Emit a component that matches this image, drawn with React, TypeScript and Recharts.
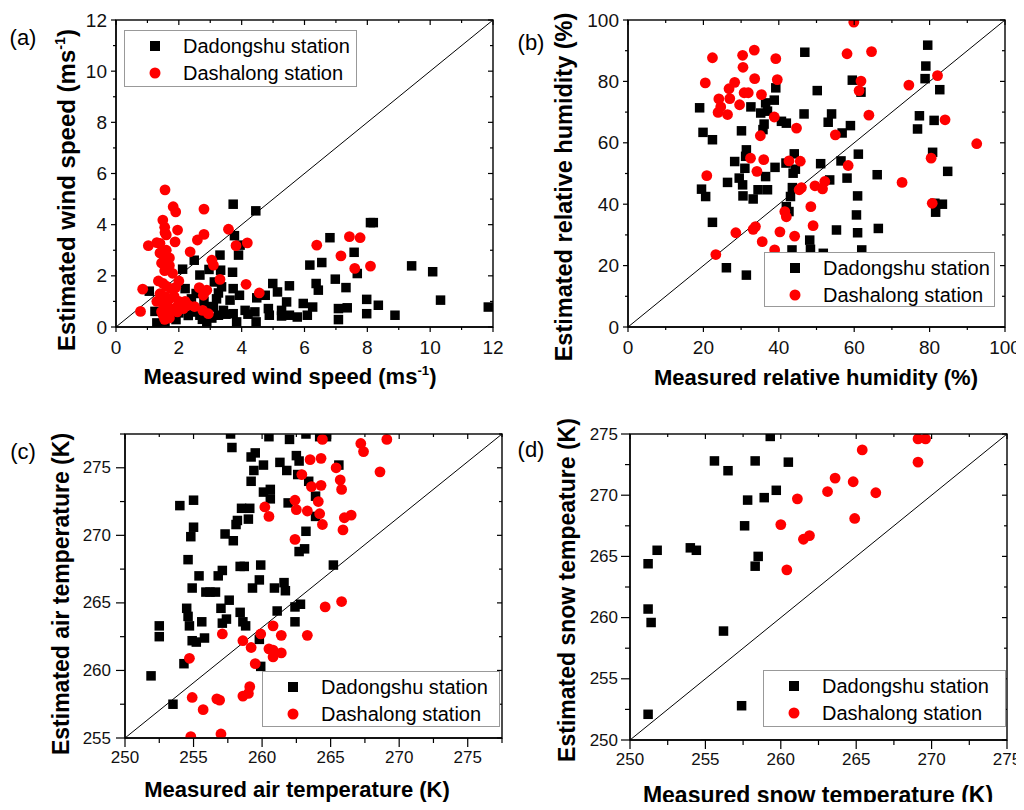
import { ReferenceLine, Scatter, ScatterChart, XAxis, YAxis } from "recharts";

const FONT = '"Liberation Sans", Arial, Helvetica, sans-serif';

type Pt = [number, number];

// (a) wind speed, ms-1
const windMajor = [0, 2, 4, 6, 8, 10, 12];
const windMinor = [1, 3, 5, 7, 9, 11];
const windDadongshu: Pt[] = [
  [3.73, 4.8], [4.45, 4.54], [3.77, 3.57], [3.95, 3.2], [3.9, 2.81], [3.31, 2.81], [2.49, 2.61],
  [2.12, 2.26], [2.67, 2.03], [2.96, 2.25], [3.33, 2.22], [3.71, 2.14], [3.13, 1.76], [3.36, 1.57],
  [3.73, 1.5], [3.26, 1.33], [2.55, 1.31], [3.93, 1.24], [3.63, 1.05], [1.06, 1.4], [1.24, 0.61],
  [1.3, 0.16], [1.56, 0.2], [1.91, 0.29], [2.46, 0.59], [2.67, 0.46], [2.89, 0.2], [3.1, 0.78],
  [3.26, 0.46], [3.42, 0.65], [3.73, 0.52], [3.84, 0.2], [4.11, 0.65], [4.42, 0.59], [4.46, 0.2],
  [4.48, 1.14], [4.75, 1.24], [4.85, 0.72], [4.88, 0.46], [4.99, 1.7], [5.14, 1.37], [5.27, 0.65],
  [5.27, 0.43], [5.43, 0.98], [5.52, 1.61], [5.52, 0.46], [5.77, 0.39], [5.96, 0.92], [6.09, 0.46],
  [6.26, 0.78], [6.17, 2.42], [6.37, 1.7], [6.44, 1.44], [6.55, 2.52], [6.81, 3.49], [6.98, 1.87],
  [7.08, 0.72], [7.08, 0.29], [7.36, 0.75], [7.32, 1.54], [7.58, 2.92], [7.68, 2.09], [7.98, 1.08],
  [7.98, 0.52], [8.1, 4.08], [8.19, 4.08], [8.35, 0.85], [8.88, 0.46], [9.41, 2.39], [10.08, 2.16],
  [10.33, 1.05], [11.85, 0.78], [2.2, 1.5], [2.4, 1.1], [2.6, 0.6], [2.8, 1.0], [3.0, 0.8],
  [3.5, 0.5], [3.2, 1.1], [2.3, 0.45], [4.2, 0.5], [2.0, 0.55], [2.75, 0.3], [3.05, 0.35],
];
const windDashalong: Pt[] = [
  [1.56, 5.36], [1.82, 4.7], [1.9, 4.5], [1.49, 4.18], [1.56, 3.69], [1.96, 3.79], [2.8, 4.61],
  [2.8, 3.62], [2.59, 3.4], [3.58, 3.82], [3.82, 3.18], [4.18, 3.29], [1.03, 3.18], [1.4, 3.27],
  [1.88, 3.33], [2.36, 2.94], [3.05, 2.61], [3.1, 2.42], [3.31, 1.86], [4.14, 1.67], [4.56, 1.33],
  [0.85, 1.48], [0.78, 0.61], [2.65, 1.54], [2.89, 1.44], [2.78, 1.24], [2.76, 0.65], [2.94, 0.52],
  [2.3, 0.85], [2.14, 0.72], [1.95, 0.59], [1.5, 0.46], [6.39, 3.2], [7.16, 2.78], [7.43, 3.53],
  [7.77, 3.49], [7.6, 2.29], [8.1, 2.38], [1.3, 3.3], [1.4, 2.9], [1.5, 2.8], [1.6, 3.0],
  [1.45, 2.5], [1.7, 2.4], [1.55, 2.2], [1.8, 2.1], [1.35, 1.8], [1.5, 1.7], [1.6, 1.6],
  [1.75, 1.5], [1.9, 1.55], [1.4, 1.3], [1.55, 1.2], [1.7, 1.1], [1.85, 1.2], [2.0, 1.0],
  [1.3, 1.0], [1.5, 0.9], [1.65, 0.8], [1.8, 0.7], [1.95, 0.8], [2.1, 0.9], [1.45, 0.6],
  [1.6, 0.5], [1.7, 0.35], [1.55, 0.3], [1.7, 2.7], [1.6, 3.6], [1.55, 3.9], [2.0, 1.8],
  [2.2, 1.0], [2.5, 0.8],
];

// (b) relative humidity, %
const humMajor = [0, 20, 40, 60, 80, 100];
const humMinor = [10, 30, 50, 70, 90];
const humDadongshu: Pt[] = [
  [19.0, 71.4], [19.9, 63.4], [22.4, 61.0], [19.5, 44.9], [20.6, 42.5], [22.4, 34.1], [26.1, 19.3],
  [26.4, 47.1], [28.3, 53.9], [29.5, 48.5], [30.1, 63.9], [30.4, 46.3], [30.5, 42.7], [31.2, 55.6],
  [31.4, 57.7], [31.0, 51.7], [31.4, 16.9], [32.6, 71.7], [33.2, 41.7], [34.5, 44.7], [35.2, 69.7],
  [35.8, 64.3], [36.1, 66.1], [36.5, 73.0], [37.0, 70.3], [36.5, 49.0], [37.0, 44.7], [38.8, 73.9],
  [39.2, 77.9], [39.0, 52.0], [40.7, 67.0], [42.0, 66.4], [41.9, 53.4], [42.0, 39.2], [42.7, 37.6],
  [43.1, 42.5], [43.6, 45.4], [43.8, 50.1], [44.1, 56.4], [44.4, 51.4], [43.5, 25.1], [46.9, 89.5],
  [46.7, 69.4], [48.2, 28.3], [48.4, 25.3], [50.2, 77.0], [51.1, 53.2], [51.8, 24.0], [53.1, 66.7],
  [54.0, 69.4], [53.5, 47.9], [55.3, 31.6], [56.5, 54.1], [56.8, 63.2], [58.1, 48.5], [59.0, 65.6],
  [59.5, 80.4], [60.9, 30.7], [60.6, 36.5], [60.9, 42.7], [61.1, 56.3], [61.8, 76.5], [62.0, 25.1],
  [66.1, 49.6], [66.4, 32.1], [76.8, 64.5], [77.3, 68.8], [78.8, 80.9], [79.0, 85.0], [79.5, 91.8],
  [80.8, 56.9], [81.2, 67.3], [81.4, 40.3], [81.6, 37.4], [82.7, 77.3], [83.4, 40.0], [84.8, 50.7],
];
const humDashalong: Pt[] = [
  [22.4, 87.7], [20.5, 79.5], [20.9, 49.3], [23.3, 23.6], [24.1, 74.3], [23.9, 69.9], [24.6, 71.7],
  [26.4, 69.2], [26.8, 77.6], [27.0, 74.4], [28.3, 79.7], [29.6, 72.4], [30.4, 88.5], [30.5, 84.6],
  [30.8, 76.3], [31.9, 76.3], [33.5, 90.2], [33.6, 80.9], [35.4, 75.7], [35.1, 62.3], [32.5, 55.0],
  [34.2, 50.7], [36.0, 54.5], [28.6, 30.7], [33.2, 31.8], [33.8, 32.7], [35.6, 27.8], [38.9, 25.1],
  [40.3, 31.0], [38.8, 68.4], [39.2, 87.4], [39.6, 80.6], [41.6, 37.6], [42.0, 35.9], [42.7, 54.1],
  [44.2, 29.6], [44.7, 64.8], [45.4, 44.7], [45.7, 54.0], [46.0, 45.4], [48.5, 39.2], [49.1, 33.0],
  [49.6, 46.0], [51.6, 45.0], [52.2, 47.4], [55.0, 62.6], [58.1, 89.0], [58.4, 52.6], [59.9, 99.3],
  [61.3, 77.0], [61.8, 80.1], [63.9, 69.0], [64.6, 89.7], [72.7, 47.1], [74.5, 78.8], [80.4, 55.0],
  [80.7, 40.3], [82.1, 81.9], [84.1, 67.5], [92.5, 59.7],
];

// (c) air temperature, K
const airXMajor = [250, 255, 260, 265, 270, 275];
const airXMinor = [252.5, 257.5, 262.5, 267.5, 272.5, 277.5];
const airYMajor = [255, 260, 265, 270, 275];
const airYMinor = [257.5, 262.5, 267.5, 272.5, 277.5];
const airDadongshu: Pt[] = [
  [251.9, 259.6], [252.5, 263.3], [252.5, 262.5], [253.5, 257.5], [254.0, 272.2], [254.3, 260.5],
  [254.6, 268.2], [254.5, 264.6], [254.6, 264.0], [254.7, 263.3], [254.8, 269.9], [254.9, 266.1],
  [254.9, 262.2], [255.0, 270.6], [255.0, 272.6], [255.2, 262.1], [255.4, 267.0], [255.6, 263.6],
  [255.8, 262.4], [255.9, 265.8], [256.2, 265.8], [256.6, 265.8], [256.8, 267.0], [257.0, 264.6],
  [257.1, 267.4], [257.1, 263.5], [257.4, 263.8], [257.3, 270.1], [257.6, 265.2], [257.8, 276.5],
  [257.9, 269.6], [258.1, 270.8], [258.2, 271.1], [258.4, 267.7], [258.4, 264.3], [258.5, 272.0],
  [258.6, 263.6], [258.7, 267.7], [258.8, 263.3], [259.0, 271.2], [259.1, 272.0], [259.2, 274.0],
  [259.3, 266.1], [259.2, 275.8], [259.4, 274.8], [259.5, 276.1], [259.8, 266.7], [259.8, 262.3],
  [259.9, 267.8], [259.9, 260.3], [260.1, 273.2], [260.1, 275.2], [260.5, 277.3], [260.6, 273.4],
  [260.6, 272.7], [260.9, 266.1], [261.1, 264.4], [261.3, 275.4], [261.6, 266.5], [261.7, 265.9],
  [261.8, 274.8], [261.9, 272.4], [262.0, 277.1], [262.4, 264.7], [262.4, 263.6], [262.5, 275.9],
  [262.6, 274.5], [262.7, 275.5], [262.7, 268.8], [262.8, 264.9], [263.1, 269.0], [263.2, 270.3],
  [263.2, 277.5], [263.4, 274.0], [263.9, 272.9], [263.9, 271.4], [264.2, 277.3], [264.7, 277.3],
  [265.2, 267.8], [265.6, 275.2], [257.7, 277.5],
];
const airDashalong: Pt[] = [
  [264.4, 277.1], [263.5, 275.6], [264.3, 275.7], [262.9, 274.5], [263.6, 273.6], [264.3, 273.7],
  [264.1, 272.5], [262.4, 272.6], [262.5, 271.9], [263.3, 271.8], [264.2, 271.6], [264.4, 270.8],
  [260.2, 272.1], [260.5, 271.4], [262.4, 269.7], [265.4, 275.0], [265.7, 274.1], [265.8, 273.4],
  [266.0, 271.3], [266.5, 271.5], [265.9, 270.4], [267.2, 276.8], [267.4, 276.2], [269.1, 277.1],
  [268.6, 274.7], [264.6, 264.7], [265.8, 265.1], [257.1, 262.7], [254.7, 260.9], [258.6, 262.2],
  [259.2, 261.7], [259.9, 262.7], [260.8, 263.3], [261.4, 262.6], [260.5, 261.6], [260.8, 261.5],
  [261.4, 261.3], [260.8, 261.0], [263.3, 262.6], [259.5, 260.5], [259.1, 258.8], [259.0, 258.3],
  [258.6, 258.1], [254.9, 258.0], [255.7, 257.1], [256.7, 257.9], [256.9, 257.8], [254.8, 255.1],
  [257.0, 255.3],
];

// (d) snow temperature, K
const snowMajor = [250, 255, 260, 265, 270, 275];
const snowMinor = [252.5, 257.5, 262.5, 267.5, 272.5];
const snowDadongshu: Pt[] = [
  [259.3, 274.8], [255.6, 272.8], [256.5, 272.0], [258.3, 272.8], [260.5, 272.7], [259.7, 270.4],
  [257.8, 269.6], [258.9, 269.8], [257.6, 267.5], [251.8, 265.5], [254.0, 265.7], [254.4, 265.5],
  [251.2, 264.4], [258.5, 265.0], [258.3, 264.2], [251.2, 260.7], [251.4, 259.6], [256.2, 258.9],
  [251.2, 252.1], [257.4, 252.8], [255.0, 249.65],
];
const snowDashalong: Pt[] = [
  [269.1, 274.6], [269.6, 274.6], [265.4, 273.7], [269.1, 272.7], [263.6, 271.4], [264.8, 271.1],
  [263.1, 270.3], [266.3, 270.2], [261.1, 269.7], [264.9, 268.1], [260.0, 267.6], [261.5, 266.4],
  [261.9, 266.7], [260.4, 263.9],
];

const toXY = (pts: Pt[]) => pts.map(([x, y]) => ({ x, y }));
const merge = (a: number[], b: number[]) => [...a, ...b].sort((m, n) => m - n);
const isIn = (list: number[], v: number) => list.some((m) => Math.abs(m - v) < 1e-6);

const squareShape = (props: any) => (
  <rect x={props.cx - 4.75} y={props.cy - 4.75} width={9.5} height={9.5} fill="#000" />
);
const circleShape = (props: any) => <circle cx={props.cx} cy={props.cy} r={5.4} fill="#ff0000" />;

const tl = { stroke: "#000", strokeWidth: 1.2 };
const edge = { stroke: "#000", strokeWidth: 1.3 };

function makeTick(side: "bottom" | "left", major: number[], fontSize: number, len: number, gap: number) {
  return (props: any) => {
    const { x, y, payload } = props;
    const v = payload.value;
    const isMajor = isIn(major, v);
    const l = isMajor ? len : Math.round(len * 0.55);
    if (side === "bottom") {
      return (
        <g>
          <line x1={x} y1={y} x2={x} y2={y + l} {...tl} />
          {isMajor && (
            <text x={x} y={y + gap} textAnchor="middle" dominantBaseline="central" fontSize={fontSize} fontFamily={FONT} fill="#111">
              {v}
            </text>
          )}
        </g>
      );
    }
    return (
      <g>
        <line x1={x - l} y1={y} x2={x} y2={y} {...tl} />
        {isMajor && (
          <text x={x - gap} y={y} textAnchor="end" dominantBaseline="central" fontSize={fontSize} fontFamily={FONT} fill="#111">
            {v}
          </text>
        )}
      </g>
    );
  };
}

interface PanelProps {
  left: number;
  top: number;
  width: number;
  height: number;
  margin: { top: number; right: number; bottom: number; left: number };
  xDomain: [number, number];
  yDomain: [number, number];
  xMajor: number[];
  xMinor: number[];
  yMajor: number[];
  yMinor: number[];
  black: Pt[];
  red: Pt[];
  fontSize: number;
  tickLen: number;
  xGap: number;
  yGap: number;
}

const Y_AXIS_W = 60;
const X_AXIS_H = 40;

function plotBox(p: PanelProps) {
  return {
    x: p.left + p.margin.left + Y_AXIS_W,
    y: p.top + p.margin.top,
    w: p.width - p.margin.left - p.margin.right - Y_AXIS_W,
    h: p.height - p.margin.top - p.margin.bottom - X_AXIS_H,
  };
}

// full box around the plot area, with inward ticks on the top and right sides
function Frame({ p }: { p: PanelProps }) {
  const b = plotBox(p);
  const [x0, x1] = p.xDomain;
  const [y0, y1] = p.yDomain;
  const xt = merge(p.xMajor, p.xMinor);
  const yt = merge(p.yMajor, p.yMinor);
  const sx = (v: number) => ((v - x0) / (x1 - x0)) * b.w;
  const sy = (v: number) => b.h - ((v - y0) / (y1 - y0)) * b.h;
  return (
    <svg width={b.w + 8} height={b.h + 8}
      style={{ position: "absolute", left: b.x - 4, top: b.y - 4, overflow: "visible", pointerEvents: "none" }}>
      <g transform="translate(4,4)">
        <rect x={0} y={0} width={b.w} height={b.h} fill="none" stroke="#000" strokeWidth={1.4} />
        {xt.map((t) => (
          <line key={`x${t}`} x1={sx(t)} y1={0} x2={sx(t)} y2={isIn(p.xMajor, t) ? 5 : 3} {...tl} />
        ))}
        {yt.map((t) => (
          <line key={`y${t}`} x1={b.w - (isIn(p.yMajor, t) ? 5 : 3)} y1={sy(t)} x2={b.w} y2={sy(t)} {...tl} />
        ))}
      </g>
    </svg>
  );
}

function Panel(p: PanelProps) {
  const xt = merge(p.xMajor, p.xMinor);
  const yt = merge(p.yMajor, p.yMinor);
  const [x0, x1] = p.xDomain;
  const [y0, y1] = p.yDomain;
  const common = { allowDataOverflow: true, interval: 0 as const, tickLine: false, tickSize: 0, tickMargin: 0, axisLine: edge };
  return (
    <div style={{ position: "absolute", left: p.left, top: p.top, width: p.width, height: p.height }}>
      <ScatterChart width={p.width} height={p.height} margin={p.margin}>
        <XAxis xAxisId="b" type="number" dataKey="x" domain={p.xDomain} ticks={xt} height={X_AXIS_H}
          tick={makeTick("bottom", p.xMajor, p.fontSize, p.tickLen, p.xGap)} {...common} />
        <YAxis yAxisId="l" type="number" dataKey="y" domain={p.yDomain} ticks={yt} width={Y_AXIS_W}
          tick={makeTick("left", p.yMajor, p.fontSize, p.tickLen, p.yGap)} {...common} />
        <ReferenceLine xAxisId="b" yAxisId="l" ifOverflow="visible" stroke="#000" strokeWidth={1}
          segment={[{ x: x0, y: y0 }, { x: x1, y: y1 }]} />
        <Scatter xAxisId="b" yAxisId="l" data={toXY(p.black)} shape={squareShape} isAnimationActive={false} />
        <Scatter xAxisId="b" yAxisId="l" data={toXY(p.red)} shape={circleShape} isAnimationActive={false} />
      </ScatterChart>
    </div>
  );
}

function LegendBox({ left, top, width, height }: { left: number; top: number; width: number; height: number }) {
  const row = (cy: number, marker: any, label: string) => (
    <>
      <svg style={{ position: "absolute", left: 22, top: cy - 7 }} width={16} height={14}>{marker}</svg>
      <div style={{ position: "absolute", left: 58, top: cy - 12, fontSize: 20, lineHeight: "24px", whiteSpace: "nowrap", color: "#000" }}>{label}</div>
    </>
  );
  return (
    <div style={{ position: "absolute", left, top, width, height, border: "1px solid #999", background: "#fff", boxSizing: "border-box", fontFamily: FONT }}>
      {row(15, <rect x={3} y={2} width={10} height={10} fill="#000" />, "Dadongshu station")}
      {row(42, <circle cx={8} cy={7} r={5.5} fill="#ff0000" />, "Dashalong station")}
    </div>
  );
}

function Title({ x, y, size, rotate, children }: { x: number; y: number; size: number; rotate?: boolean; children: any }) {
  return (
    <div style={{ position: "absolute", left: x, top: y, transform: `translate(-50%, -50%)${rotate ? " rotate(-90deg)" : ""}`,
      fontFamily: FONT, fontWeight: "bold", fontSize: size, whiteSpace: "nowrap", color: "#000", lineHeight: 1 }}>
      {children}
    </div>
  );
}

function Tag({ x, y, text }: { x: number; y: number; text: string }) {
  return (
    <div style={{ position: "absolute", left: x, top: y, transform: "translate(-50%, -50%)", fontFamily: FONT, fontSize: 22, lineHeight: 1, color: "#000" }}>
      {text}
    </div>
  );
}

const sup = (t: string) => <span style={{ fontSize: "0.6em", position: "relative", top: "-0.7em" }}>{t}</span>;

const panelA: PanelProps = {
  left: 0, top: 0, width: 512, height: 400, margin: { top: 20, right: 19, left: 56, bottom: 33 },
  xDomain: [0, 12], yDomain: [0, 12], xMajor: windMajor, xMinor: windMinor, yMajor: windMajor, yMinor: windMinor,
  black: windDadongshu, red: windDashalong, fontSize: 19, tickLen: 5, xGap: 20, yGap: 9,
};
const panelB: PanelProps = {
  left: 512, top: 0, width: 512, height: 400, margin: { top: 20, right: 19, left: 56, bottom: 33 },
  xDomain: [0, 100], yDomain: [0, 100], xMajor: humMajor, xMinor: humMinor, yMajor: humMajor, yMinor: humMinor,
  black: humDadongshu, red: humDashalong, fontSize: 19, tickLen: 5, xGap: 20, yGap: 9,
};
const panelC: PanelProps = {
  left: 0, top: 405, width: 512, height: 405, margin: { top: 29, right: 10, left: 65, bottom: 32 },
  xDomain: [250, 277.5], yDomain: [255, 277.5], xMajor: airXMajor, xMinor: airXMinor, yMajor: airYMajor, yMinor: airYMinor,
  black: airDadongshu, red: airDashalong, fontSize: 17, tickLen: 9, xGap: 19, yGap: 14,
};
const panelD: PanelProps = {
  left: 512, top: 405, width: 512, height: 405, margin: { top: 29, right: 17, left: 58, bottom: 30 },
  xDomain: [250, 275], yDomain: [250, 275], xMajor: snowMajor, xMinor: snowMinor, yMajor: snowMajor, yMinor: snowMinor,
  black: snowDadongshu, red: snowDashalong, fontSize: 17, tickLen: 9, xGap: 19, yGap: 12,
};
const panels = [panelA, panelB, panelC, panelD];

export default function App() {
  return (
    <div style={{ position: "relative", margin: -8, width: 1024, height: 810, background: "#fff", fontFamily: FONT }}>
      {panels.map((p, i) => <Panel key={`p${i}`} {...p} />)}
      {panels.map((p, i) => <Frame key={`f${i}`} p={p} />)}

      <LegendBox left={124} top={30} width={233} height={57} />
      <LegendBox left={764} top={252} width={231} height={55} />
      <LegendBox left={262} top={671} width={238} height={56} />
      <LegendBox left={763} top={670} width={243} height={57} />

      <Tag x={23} y={38} text="(a)" />
      <Tag x={531} y={43} text="(b)" />
      <Tag x={23} y={452} text="(c)" />
      <Tag x={531} y={450} text="(d)" />

      <Title x={290} y={377} size={22}>Measured wind speed (ms{sup("-1")})</Title>
      <Title x={67} y={190} size={24} rotate>Estimated wind speed (ms{sup("-1")})</Title>
      <Title x={816} y={378} size={22}>Measured relative humidity (%)</Title>
      <Title x={565} y={187} size={23.5} rotate>Estimated relative humidity (%)</Title>
      <Title x={297} y={790} size={22}>Measured air temperature (K)</Title>
      <Title x={61} y={594} size={23} rotate>Estimated air temperature (K)</Title>
      <Title x={818} y={795} size={23}>Measured snow temperature (K)</Title>
      <Title x={567} y={590} size={23} rotate>Estimated snow tempeature (K)</Title>
    </div>
  );
}
